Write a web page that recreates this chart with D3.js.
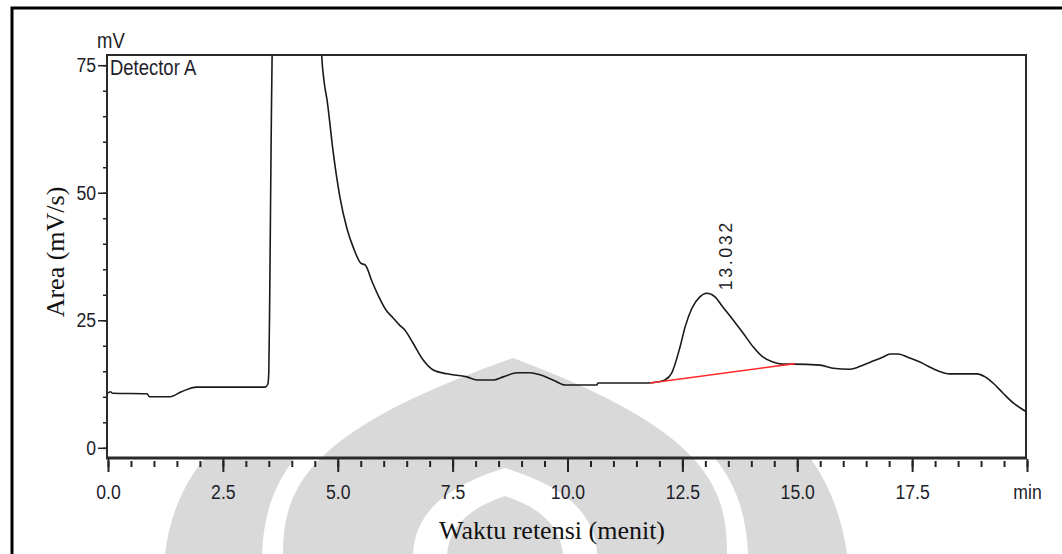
<!DOCTYPE html>
<html>
<head>
<meta charset="utf-8">
<script src="https://cdn.jsdelivr.net/npm/d3@7"></script>
<style>
  body { margin: 0; background: #fff; }
  .tick text { font-family: "Liberation Sans", sans-serif; font-size: 21px; fill: #1e1e2a; }
  .narrow { font-family: "Liberation Sans", sans-serif; fill: #1e1e2a; }
  .serif { font-family: "Liberation Serif", "Times New Roman", serif; fill: #111; }
</style>
</head>
<body>
<svg id="chart"></svg>
<script>
// chromatogram trace (min, mV)
const retentionTime = [0.0, 0.05, 0.1, 0.85, 0.9, 1.35, 1.6, 1.93, 3.42, 3.48, 3.5, 3.52, 3.55, 3.6, 4.1, 4.6,
  4.65, 4.7, 4.77, 4.9, 5.05, 5.2, 5.35, 5.5, 5.6, 5.75, 5.9, 6.05, 6.2, 6.35, 6.46, 6.64, 6.86, 7.07, 7.38,
  7.81, 8.03, 8.38, 8.6, 8.92, 9.18, 9.4, 9.68, 9.95, 10.64, 10.66, 11.73, 11.95, 12.12, 12.27, 12.45, 12.56,
  12.71, 12.88, 13.03, 13.21, 13.38, 13.6, 13.82, 14.04, 14.25, 14.47, 14.67, 14.91, 15.5, 15.78, 16.15,
  16.43, 16.65, 16.87, 17.02, 17.19, 17.45, 17.67, 17.89, 18.06, 18.32, 18.91, 19.09, 19.26, 19.48, 19.7,
  19.89, 20.0];
const signal = [10.7, 11.0, 10.7, 10.6, 10.0, 10.0, 11.0, 11.9, 11.9, 12.5, 15, 30, 60, 90, 120, 90,
  77, 72, 68, 58, 49, 43, 39, 36.2, 35.8, 32.5, 29.5, 27, 25.5, 24, 23.1, 20.5, 17.2, 15.3, 14.5,
  13.9, 13.3, 13.3, 13.9, 14.7, 14.7, 14.3, 13.3, 12.3, 12.3, 12.7, 12.7, 12.9, 13.3, 14.7, 19.8, 23.7,
  27.4, 29.6, 30.3, 29.6, 27.6, 25.1, 22.5, 19.8, 17.8, 16.8, 16.4, 16.4, 16.2, 15.6, 15.4,
  16.2, 17.0, 17.8, 18.4, 18.4, 17.6, 16.8, 15.8, 15.1, 14.5, 14.5, 13.9, 12.7, 10.7, 8.8,
  7.6, 7.0];

// integration baseline of the 13.032 peak
const baseTime = [11.8, 14.95];
const baseSignal = [12.7, 16.5];

const peakTime = 13.032;
const peakSignal = 30.3;

const xMajor = [0, 2.5, 5, 7.5, 10, 12.5, 15, 17.5, 20];
const xMinor = d3.range(0, 20.01, 0.5);
const yMajor = [0, 25, 50, 75];
const yMinor = d3.range(0, 76, 5);

const W = 1062, H = 554;
const box = {left: 107, right: 1026, top: 55, bottom: 458};
const SQUEEZE = 0.84; // no narrow font installed, so squash the sans text

const svg = d3.select('#chart').attr('width', W).attr('height', H);
svg.append('rect').attr('width', W).attr('height', H).attr('fill', '#fff');

// faint watermark logo behind the chart
const wm = svg.append('g').attr('fill', '#d9d9d9');
svg.append('clipPath').attr('id', 'below')
  .append('rect').attr('x', 0).attr('y', box.bottom).attr('width', W).attr('height', H - box.bottom);
const outer = wm.append('g').attr('clip-path', 'url(#below)');
outer.append('path').attr('d', 'M165,554 C175,470 230,420 300,390 L720,390 C790,420 835,470 847,554 Z');
outer.append('path').attr('fill', '#fff').attr('d', 'M262,554 C265,480 300,440 360,410 L650,410 C710,440 745,480 748,554 Z');
wm.append('path').attr('d', 'M283,554 C283,485 310,430 513,358 C705,430 727,485 727,554 Z');
wm.append('path').attr('fill', '#fff').attr('d', 'M413,554 C415,510 450,485 505,468 C560,485 595,510 597,554 Z');
wm.append('path').attr('d', 'M447,554 C450,525 470,508 505,496 C540,508 560,525 563,554 Z');

const x = d3.scaleLinear().domain([0, 20]).range([108, 1027]);
const y = d3.scaleLinear().domain([-2, 77]).range([box.bottom, box.top]);

svg.append('clipPath').attr('id', 'plot')
  .append('rect').attr('x', box.left).attr('y', box.top)
  .attr('width', box.right - box.left).attr('height', box.bottom - box.top);

// x axis ticks
svg.append('g').attr('transform', `translate(0,${box.bottom + 3})`)
  .call(d3.axisBottom(x).tickValues(xMinor).tickSize(6).tickFormat(''))
  .call(g => g.select('.domain').remove())
  .call(g => g.selectAll('line').attr('stroke', '#222').attr('stroke-width', 2));
svg.append('g').attr('transform', `translate(0,${box.bottom + 1})`)
  .call(d3.axisBottom(x).tickValues(xMajor).tickSize(13).tickPadding(12)
    .tickFormat(d => d === 20 ? 'min' : d3.format('.1f')(d)))
  .call(g => g.select('.domain').remove())
  .call(g => g.selectAll('line').attr('stroke', '#222').attr('stroke-width', 2))
  .call(g => g.selectAll('text').attr('transform', `scale(${SQUEEZE},1)`));

// y axis ticks
svg.append('g').attr('transform', `translate(${box.left},0)`)
  .call(d3.axisLeft(y).tickValues(yMinor).tickSize(4).tickFormat(''))
  .call(g => g.select('.domain').remove())
  .call(g => g.selectAll('line').attr('stroke', '#222').attr('stroke-width', 1.5));
svg.append('g').attr('transform', `translate(${box.left},0)`)
  .call(d3.axisLeft(y).tickValues(yMajor).tickSize(9).tickPadding(2))
  .call(g => g.select('.domain').remove())
  .call(g => g.selectAll('line').attr('stroke', '#222').attr('stroke-width', 1.5))
  .call(g => g.selectAll('text').attr('x', -11 / SQUEEZE).attr('transform', `scale(${SQUEEZE},1)`));

// plot frame
svg.append('path')
  .attr('d', `M${box.left},${box.bottom} V${box.top} H${box.right} V${box.bottom}`)
  .attr('fill', 'none').attr('stroke', '#2a2a2a').attr('stroke-width', 2);
svg.append('line')
  .attr('x1', box.left - 1).attr('x2', box.right + 1).attr('y1', box.bottom).attr('y2', box.bottom)
  .attr('stroke', '#2a2a2a').attr('stroke-width', 3);

// trace
const pts = retentionTime.map((t, i) => [t, signal[i]]);
const line = d3.line().x(d => x(d[0])).y(d => y(d[1])).curve(d3.curveMonotoneX);
svg.append('path')
  .datum(pts)
  .attr('clip-path', 'url(#plot)')
  .attr('d', line)
  .attr('fill', 'none').attr('stroke', '#1a1a1a').attr('stroke-width', 1.6);

// baseline
svg.append('path')
  .datum(baseTime.map((t, i) => [t, baseSignal[i]]))
  .attr('d', d3.line().x(d => x(d[0])).y(d => y(d[1])))
  .attr('fill', 'none').attr('stroke', '#ff2a2a').attr('stroke-width', 1.6);

// peak label
svg.append('text')
  .attr('class', 'narrow')
  .attr('transform', `translate(${x(peakTime) + 25},${y(peakSignal) - 3}) rotate(-90)`)
  .attr('font-size', 18).attr('letter-spacing', 2.5)
  .text(peakTime.toFixed(3));

// text labels
svg.append('text').attr('class', 'narrow')
  .attr('transform', `translate(97,48) scale(${SQUEEZE},1)`).attr('font-size', 22).text('mV');
svg.append('text').attr('class', 'narrow')
  .attr('transform', `translate(110,75) scale(${SQUEEZE},1)`).attr('font-size', 22).text('Detector A');

svg.append('text').attr('class', 'serif')
  .attr('transform', 'translate(64,252) rotate(-90)')
  .attr('text-anchor', 'middle').attr('font-size', 26)
  .text('Area (mV/s)');
svg.append('text').attr('class', 'serif')
  .attr('x', 552).attr('y', 539)
  .attr('text-anchor', 'middle').attr('font-size', 26)
  .text('Waktu retensi (menit)');

// outer page frame
svg.append('path')
  .attr('d', `M12,${H} V8 H${W}`)
  .attr('fill', 'none').attr('stroke', '#000').attr('stroke-width', 3);
</script>
</body>
</html>
